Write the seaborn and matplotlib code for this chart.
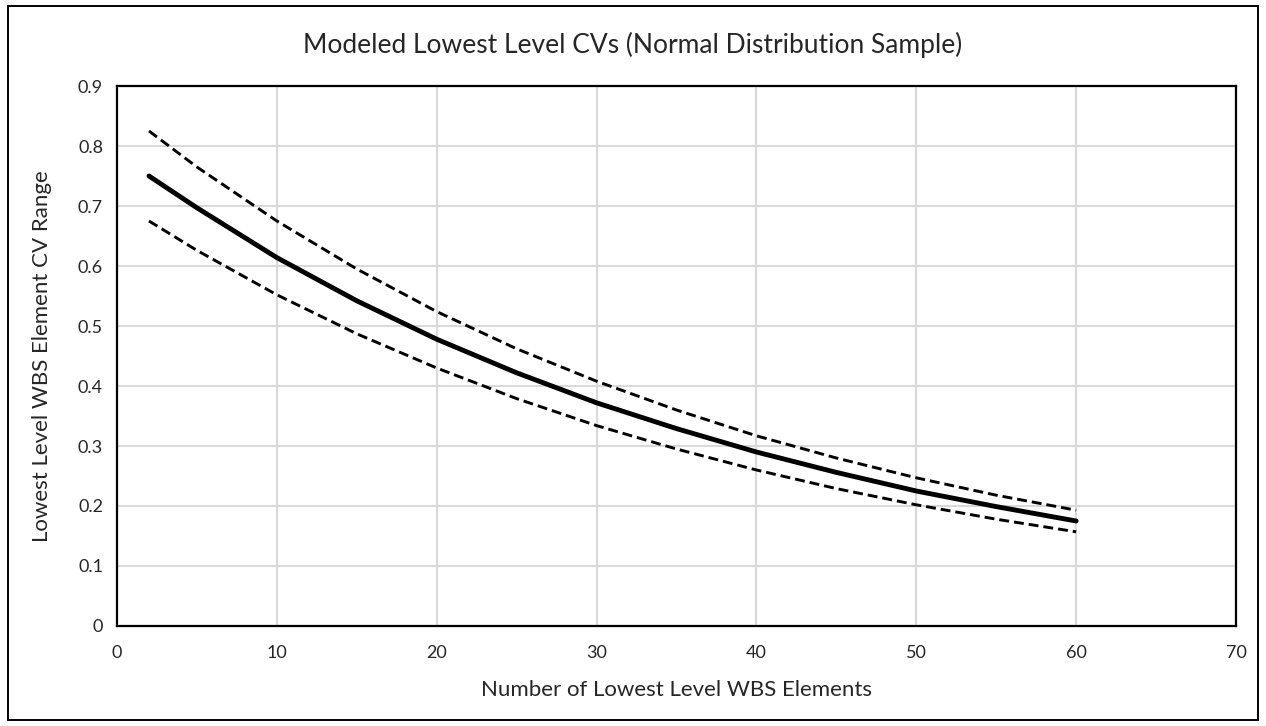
# Import library
import numpy as np
import pandas as pd
import seaborn as sns
import matplotlib.pyplot as plt
from matplotlib.patches import Rectangle

# values
numElements = [2, 5, 10, 15, 20, 25, 30, 35, 40, 45, 50, 55, 60]
cvMid = [0.750, 0.697, 0.614, 0.542, 0.478, 0.422, 0.372, 0.329, 0.290, 0.256, 0.225, 0.199, 0.175]
cvUpper = [0.825, 0.765, 0.675, 0.595, 0.524, 0.462, 0.408, 0.360, 0.317, 0.280, 0.247, 0.218, 0.193]
cvLower = [0.675, 0.626, 0.552, 0.487, 0.430, 0.379, 0.334, 0.295, 0.260, 0.229, 0.202, 0.178, 0.157]

xTicks = [0, 10, 20, 30, 40, 50, 60, 70]
yTicks = [0, 0.1, 0.2, 0.3, 0.4, 0.5, 0.6, 0.7, 0.8, 0.9]
yTickLabels = ['0', '0.1', '0.2', '0.3', '0.4', '0.5', '0.6', '0.7', '0.8', '0.9']

cvFrame = pd.DataFrame({'N': numElements, 'mid': cvMid, 'upper': cvUpper, 'lower': cvLower})

sns.set_style('white')
plt.rcParams['font.family'] = ['Lato', 'DejaVu Sans']

fig = plt.figure(figsize=(12.66, 7.26), dpi=100)
ax = fig.add_axes([117 / 1266, 1 - 626 / 726, (1236 - 117) / 1266, (626 - 86) / 726])

# grid in light grey, behind the curves
ax.set_axisbelow(True)
ax.grid(True, color='#d9d9d9', linewidth=1.5)

# dashed bounds and the solid middle curve
dashStyle = (0, (3.4, 1.7))
sns.lineplot(data=cvFrame, x='N', y='upper', ax=ax, color='black', linewidth=2.1, linestyle=dashStyle)
sns.lineplot(data=cvFrame, x='N', y='lower', ax=ax, color='black', linewidth=2.1, linestyle=dashStyle)
sns.lineplot(data=cvFrame, x='N', y='mid', ax=ax, color='black', linewidth=3.5, solid_capstyle='round')

ax.set_xlim(0, 70)
ax.set_ylim(0, 0.9)
ax.set_xticks(xTicks)
ax.set_yticks(yTicks)
ax.set_yticklabels(yTickLabels)
ax.tick_params(axis='y', labelsize=13, colors='#262626', length=0, pad=10)
ax.tick_params(axis='x', labelsize=13, colors='#262626', length=0, pad=14)

for spine in ax.spines.values():
    spine.set_visible(True)
    spine.set_color('black')
    spine.set_linewidth(1.6)

ax.set_xlabel('Number of Lowest Level WBS Elements', fontsize=16, color='#262626', labelpad=13)
ax.set_ylabel('Lowest Level WBS Element CV Range', fontsize=16, color='#262626', labelpad=19)
fig.text(0.5, 1 - 53 / 726, 'Modeled Lowest Level CVs (Normal Distribution Sample)',
         ha='center', va='baseline', fontsize=19, color='#262626')

# outer chart border
fig.patches.append(Rectangle((8 / 1266, 6 / 726), 1250 / 1266, 714 / 726, transform=fig.transFigure,
                             fill=False, edgecolor='black', linewidth=1.4))

plt.savefig('out.png', dpi=100)
